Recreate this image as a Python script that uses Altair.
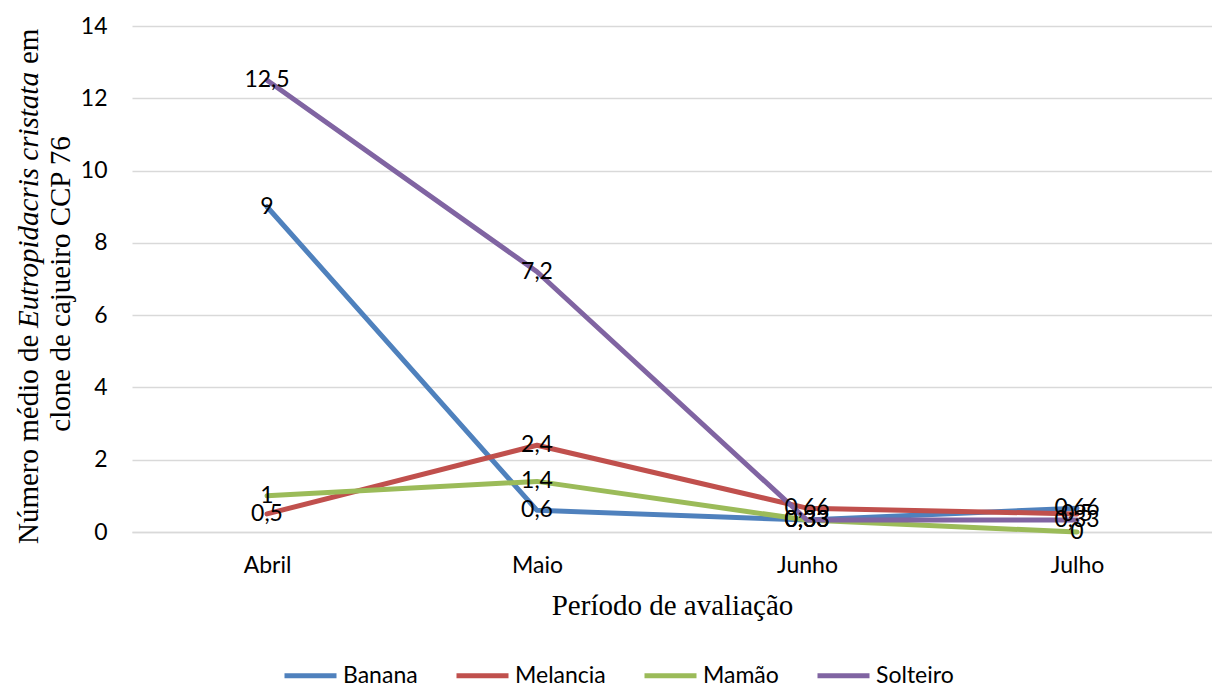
import altair as alt
import pandas as pd

months = ["Abril", "Maio", "Junho", "Julho"]
series = ["Banana", "Melancia", "Mamão", "Solteiro"]
banana = [9, 0.6, 0.33, 0.66]
melancia = [0.5, 2.4, 0.66, 0.5]
mamao = [1, 1.4, 0.33, 0]
solteiro = [12.5, 7.2, 0.33, 0.33]
colors = ["#4F81BD", "#C0504D", "#9BBB59", "#8064A2"]
y_ticks = [0, 2, 4, 6, 8, 10, 12, 14]

rows = []
for name, vals in zip(series, [banana, melancia, mamao, solteiro]):
    for i, (m, v) in enumerate(zip(months, vals)):
        rows.append({"mes": m, "ordem": i, "serie": name, "valor": v,
                     "rotulo": format(v, "g").replace(".", ",")})
df = pd.DataFrame(rows)

W, H = 1080, 506
LFONT = "Lato"
LSIZE = 23

x_enc = alt.X("mes:N", sort=months,
              scale=alt.Scale(type="point", padding=0.5),
              axis=alt.Axis(title="Período de avaliação", labelAngle=0,
                            ticks=False, domainColor="#D9D9D9", domainWidth=1.5,
                            labelPadding=22, titlePadding=14))
y_enc = alt.Y("valor:Q", scale=alt.Scale(domain=[0, 14]),
              axis=alt.Axis(values=y_ticks, title=None, domain=False, ticks=False,
                            grid=True, gridColor="#D9D9D9", gridWidth=1.5,
                            labelPadding=25))

lines = alt.Chart(df).mark_line(strokeWidth=5, strokeJoin="round", strokeCap="round").encode(
    x=x_enc, y=y_enc,
    color=alt.Color("serie:N", sort=series,
                    scale=alt.Scale(domain=series, range=colors),
                    legend=alt.Legend(orient="none", direction="horizontal",
                                      legendX=150, legendY=621, title=None,
                                      symbolType="stroke", symbolStrokeWidth=5,
                                      symbolSize=2704, labelFontSize=LSIZE,
                                      labelFont=LFONT, labelColor="black",
                                      labelOffset=4, columnPadding=28)),
    order=alt.Order("ordem:Q")
)

labels = alt.Chart(df).mark_text(font=LFONT, fontSize=LSIZE, color="black").encode(
    x=alt.X("mes:N", sort=months, scale=alt.Scale(type="point", padding=0.5)),
    y=alt.Y("valor:Q", scale=alt.Scale(domain=[0, 14])),
    text="rotulo:N"
)

title_df = pd.DataFrame({"t": [0]})
tfont = "Liberation Serif"
tsize = 29
seg1 = alt.Chart(title_df).mark_text(font=tfont, fontSize=tsize, angle=270, align="left",
                                     baseline="middle", text="Número médio de", color="black").encode(
    x=alt.value(-103), y=alt.value(518))
seg2 = alt.Chart(title_df).mark_text(font=tfont, fontSize=tsize, angle=270, align="left",
                                     baseline="middle", fontStyle="italic",
                                     text="Eutropidacris cristata", color="black").encode(
    x=alt.value(-103), y=alt.value(302))
seg3 = alt.Chart(title_df).mark_text(font=tfont, fontSize=tsize, angle=270, align="left",
                                     baseline="middle", text="em", color="black").encode(
    x=alt.value(-103), y=alt.value(38))
line2 = alt.Chart(title_df).mark_text(font=tfont, fontSize=tsize, angle=270, align="center",
                                      baseline="middle", text="clone de cajueiro CCP 76",
                                      color="black").encode(
    x=alt.value(-71), y=alt.value(258))

chart = alt.layer(lines, labels, seg1, seg2, seg3, line2).properties(
    width=W, height=H,
    padding={"left": 15, "top": 15, "right": 0, "bottom": 0}
).configure_view(strokeWidth=0).configure_axis(
    labelFont=LFONT, labelFontSize=LSIZE, labelColor="black",
    titleFont="Liberation Serif", titleFontSize=29, titleFontWeight="normal",
    titleColor="black"
)

chart.save("out.html", embed_options={"renderer": "svg", "actions": False})
